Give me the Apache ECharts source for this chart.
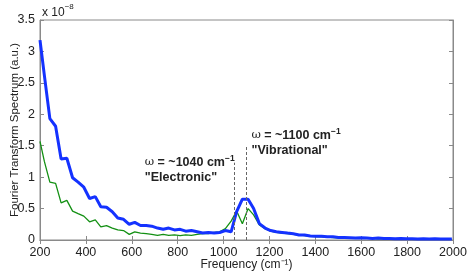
<!DOCTYPE html>
<html><head><meta charset="utf-8">
<script src="https://cdn.jsdelivr.net/npm/echarts@6/dist/echarts.min.js"></script>
<style>html,body{margin:0;padding:0;background:#fff}#c{width:469px;height:274px}</style>
</head><body><div id="c"></div>
<script>
// Frequencies (cm^-1)
var freq = [200,219,243,268,292,317,342,366,391,416,441,465,490,515,539,564,589,613,638,663,687,712,737,761,786,811,835,860,885,909,934,959,983,1008,1033,1057,1082,1107,1131,1156,1181,1205,1230,1255,1279,1304,1329,1353,1378,1403,1427,1452,1477,1501,1526,1551,1575,1600,1625,1649,1674,1699,1723,1748,1773,1797,1822,1847,1871,1896,1921,1945,1970,1995];
// Spectrum values (x 10^-8)
var blueVals = [3.18,2.62,1.93,1.81,1.29,1.30,0.99,0.92,0.84,0.66,0.69,0.53,0.52,0.45,0.35,0.33,0.25,0.28,0.23,0.23,0.22,0.19,0.17,0.19,0.16,0.17,0.14,0.15,0.13,0.11,0.12,0.11,0.12,0.15,0.13,0.45,0.65,0.65,0.50,0.26,0.19,0.15,0.13,0.12,0.11,0.10,0.08,0.08,0.065,0.06,0.06,0.05,0.05,0.04,0.04,0.035,0.03,0.035,0.03,0.025,0.03,0.025,0.025,0.02,0.025,0.02,0.02,0.015,0.02,0.015,0.02,0.015,0.015,0.015];
var greenVals = [1.57,1.25,0.92,0.90,0.59,0.63,0.46,0.42,0.38,0.29,0.32,0.21,0.23,0.19,0.16,0.15,0.09,0.13,0.11,0.10,0.09,0.075,0.09,0.075,0.08,0.07,0.08,0.075,0.09,0.10,0.10,0.12,0.13,0.18,0.30,0.46,0.26,0.50,0.40,0.24,0.18,0.14,0.12,0.11,0.10,0.09,0.08,0.07,0.06,0.055,0.05,0.045,0.04,0.035,0.035,0.03,0.03,0.025,0.025,0.025,0.02,0.02,0.02,0.02,0.015,0.015,0.015,0.01,0.01,0.01,0.01,0.01,0.01,0.01];
var xTicks = [200,400,600,800,1000,1200,1400,1600,1800,2000];
var yTicks = [0,0.5,1,1.5,2,2.5,3,3.5];
// Annotations
var markFreqs = [1045, 1099];
var markTops = [1.23, 1.49];
var annoText = [
  {f: 657, v: 1.12, l1: '1040', l2: '"Electronic"'},
  {f: 1122, v: 1.55, l1: '1100', l2: '"Vibrational"'}
];

function pairs(xs, ys){ return xs.map(function(x,i){ return [x, ys[i]]; }); }
var axisCol = '#8a8a8a';
var txtCol = '#222';
var font = 'Liberation Sans, Arial, sans-serif';

var chart = echarts.init(document.getElementById('c'));
var commonX = {type:'value', min:200, max:2000, interval:200,
  axisLine:{show:true, lineStyle:{color:axisCol}}, axisTick:{show:true, inside:true, length:4, lineStyle:{color:axisCol}},
  splitLine:{show:false}};
var commonY = {type:'value', min:0, max:3.5, interval:0.5,
  axisLine:{show:true, lineStyle:{color:axisCol}}, axisTick:{show:true, inside:true, length:4, lineStyle:{color:axisCol}},
  splitLine:{show:false}};

var annoData = annoText.map(function(a){
  return {coord:[a.f, a.v], value: a.l1,
    label:{show:true, position:[0,0], align:'left', verticalAlign:'middle',
      formatter: '{w|\u03c9} {b|= ~' + a.l1 + ' cm}{s|\u22121}\n{b|' + a.l2 + '}',
      rich:{
        w:{fontFamily:'DejaVu Serif, serif', fontSize:11.5, color:txtCol, lineHeight:15},
        b:{fontFamily:font, fontWeight:'bold', fontSize:12.5, color:txtCol, lineHeight:15},
        s:{fontFamily:font, fontWeight:'bold', fontSize:8.5, color:txtCol, verticalAlign:'top', lineHeight:15, padding:[0,0,6,0]}
      }}};
});

chart.setOption({
  animation:false,
  grid:{left:40, right:16, top:20, bottom:34, show:true, borderColor:axisCol, borderWidth:1,
        containLabel:false, outerBoundsMode:'none'},
  xAxis:[
    Object.assign({}, commonX, {position:'bottom',
      axisLabel:{show:true, color:txtCol, fontSize:12.5, fontFamily:font, margin:6,
        formatter:function(v){ return String(v); }},
      name:'Frequency (cm\u207b\u00b9)', nameLocation:'middle', nameGap:19, nameMoveOverlap:false,
      nameTextStyle:{color:txtCol, fontSize:12, fontFamily:font}}),
    Object.assign({}, commonX, {position:'top', axisLabel:{show:false}})
  ],
  yAxis:[
    Object.assign({}, commonY, {position:'left',
      axisLabel:{show:true, color:txtCol, fontSize:12.5, fontFamily:font, margin:5,
        formatter:function(v){ return String(v); }},
      name:'Fourier Transform Spectrum (a.u.)', nameLocation:'middle', nameGap:19, nameMoveOverlap:false,
      nameTextStyle:{color:txtCol, fontSize:11.5, fontFamily:font}}),
    Object.assign({}, commonY, {position:'right', axisLabel:{show:false}})
  ],
  graphic:[{type:'text', left:42, top:3,
    style:{text:'{a|x 10}{s|\u22128}', rich:{
      a:{fontFamily:font, fontSize:12, fill:txtCol, lineHeight:16, verticalAlign:'bottom'},
      s:{fontFamily:font, fontSize:8, fill:txtCol, lineHeight:16, verticalAlign:'top'}}}}],
  series:[
    {type:'line', data:pairs(freq, greenVals), symbol:'none', lineStyle:{color:'#139013', width:1.3}, z:2,
     markLine:{silent:true, symbol:'none', label:{show:false}, lineStyle:{color:'#666', type:[3,2], width:1},
       data: markFreqs.map(function(f,i){ return [{coord:[f,0]},{coord:[f,markTops[i]]}]; })}},
    {type:'line', data:pairs(freq, blueVals), symbol:'none', lineStyle:{color:'#1432ff', width:3}, z:3,
     markPoint:{symbol:'circle', symbolSize:0, silent:true, data:annoData}}
  ]
});
</script></body></html>
